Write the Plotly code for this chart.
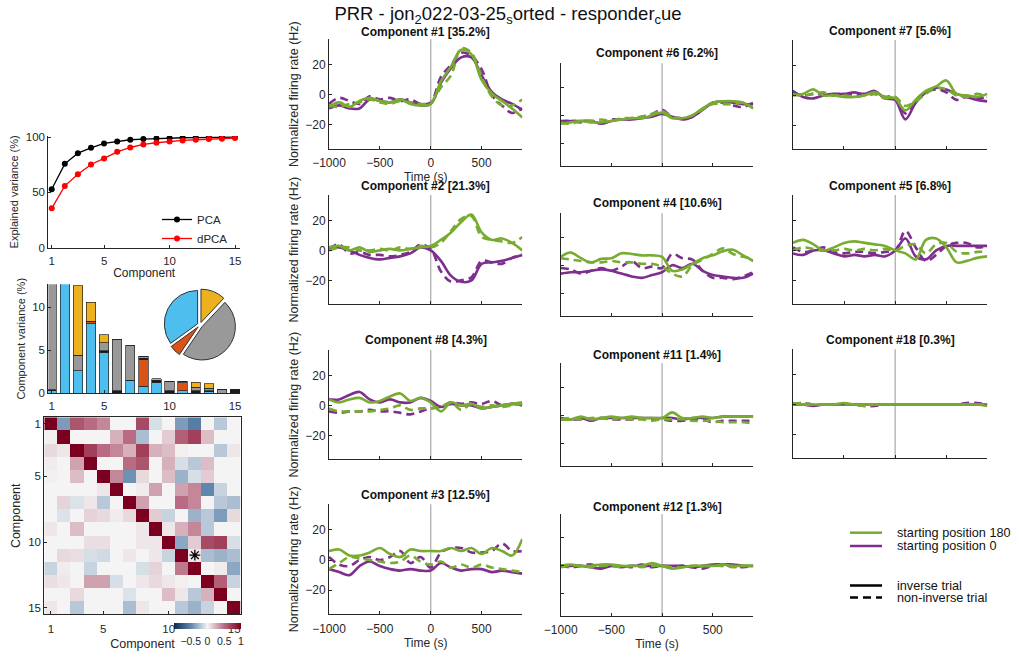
import plotly.graph_objects as go

W, H = 1019, 661
FONT = "Liberation Sans, Arial, Helvetica, sans-serif"
AX = "#262626"
GREEN = "#77AC30"
PURPLE = "#7E2F8E"
C_BLUE, C_RED, C_BLACK, C_GRAY, C_YELLOW = "#4DBEEE", "#D95319", "#1a1a1a", "#999999", "#EDB120"

# ------------------------------------------------------------------ data
components = [1, 2, 3, 4, 5, 6, 7, 8, 9, 10, 11, 12, 13, 14, 15]
pca_cumvar = [52.9, 75.8, 85.5, 90.3, 94.3, 96.0, 97.6, 98.2, 98.8, 99.1, 99.4, 99.6, 99.8, 99.9, 100.0]
dpca_cumvar = [35.6, 55.9, 66.5, 75.2, 80.7, 86.7, 90.6, 93.4, 94.9, 96.1, 97.0, 97.6, 98.2, 98.5, 99.1]

var_blue = [0.3, 21.3, 2.6, 8.1, 4.8, 0, 1.5, 0.8, 1.3, 0, 0.3, 0, 0.2, 0, 0]
var_red = [0, 0, 0, 0.3, 0, 0, 0, 3.1, 0, 0, 0.9, 0, 0, 0, 0]
var_black = [0.1, 0, 0, 0, 0.15, 0.3, 0, 0.15, 0.2, 0.3, 0, 0.3, 0.1, 0, 0.45]
var_gray = [34.8, 0, 1.8, 0, 0.9, 5.9, 4.0, 0.25, 0, 1.1, 0.2, 0.4, 0.3, 0.45, 0]
var_yellow = [0, 0, 8.1, 2.2, 0.95, 0, 0.1, 0, 0.2, 0, 0, 0.6, 0.5, 0, 0]

pie_labels = ["yellow", "gray", "red", "blue"]
pie_values = [12.0, 47.5, 5.5, 35.0]

corr_matrix = [
    [1, -0.4, 0.6, 0.5, 0.4, 0, 0, 0.65, -0.1, 0, -0.4, -0.55, 0, -0.2, 0],
    [0.02, 1, 0, 0, 0, 0.25, 0.5, -0.25, 0, 0.15, 0.55, 0.7, 0.2, 0, 0],
    [0.1, 0.05, 1, 0.7, 0.5, 0.4, 0.25, 0.7, 0.25, 0.2, 0.02, 0, 0, -0.2, 0.05],
    [0.03, 0, 0.3, 1, 0, 0, 0.5, 0.6, 0, 0.25, -0.1, -0.2, 0.2, 0, 0],
    [0.02, 0, 0.2, 0, 1, 0.4, -0.45, 0.1, 0, 0.2, -0.3, -0.1, 0.15, 0, 0],
    [0, 0, 0, 0, 0.05, 1, 0, 0.03, 0.3, 0, 0.3, 0.4, -0.5, -0.15, 0],
    [0, 0.12, -0.08, 0.05, -0.2, 0, 1, 0.3, 0, 0, 0.5, 0.4, 0, -0.2, -0.25],
    [0, -0.08, 0, 0.12, 0.1, 0.03, 0.1, 1, 0.15, -0.15, 0, -0.3, -0.2, -0.4, 0.1],
    [0.05, 0, 0.2, 0, 0, 0, 0, 0.05, 1, 0.05, 0.25, 0.4, -0.2, 0, 0],
    [0, 0, 0, 0.08, 0.08, 0, 0, 0.05, 0.05, 1, -0.35, 0.15, 0.65, 0.7, -0.1],
    [0, 0.1, 0.08, -0.1, -0.12, 0, 0.05, 0, 0.05, -0.15, 1, 0.05, -0.25, -0.3, -0.25],
    [-0.15, 0.03, 0, -0.15, 0, 0, 0, -0.1, 0.12, 0, 0.45, 1, 0, 0.03, -0.35],
    [0.08, 0.05, 0, 0.3, 0.3, -0.1, 0, 0.05, 0.1, 0.05, 0.02, 0, 1, 0.55, -0.15],
    [0, 0, 0.1, 0, 0, 0, -0.08, 0, 0, 0.2, 0.05, -0.2, 0.25, 1, 0],
    [0.05, 0, -0.2, 0, 0, 0, -0.25, 0.05, 0, 0, -0.2, -0.3, -0.15, 0, 1],
]
star_row, star_col = 11, 12
corr_ticks = [1, 5, 10, 15]
cbar_ticks = [-0.5, 0, 0.5, 1]

time_ms = [-1000, -900, -800, -700, -600, -500, -400, -300, -200, -100,
           0, 100, 200, 300, 400, 500, 600, 700, 800, 900]
event_time = 0

# g = starting position 180 (green), p = starting position 0 (purple)
# inv = inverse trial (solid), non = non-inverse trial (dashed)
c1_g_inv = [-8, -5, -8, -4, -2, -4, -5, -3, -6, -7, -6, 9, 19, 30, 27, 10, 1, -4, -9, -15]
c1_g_non = [-7, -8, -6, -5, -3, -5, -6, -4, -5, -6, -5, 5, 13, 31, 28, 12, -1, -7, -7, -3]
c1_p_inv = [-9, -7, -9, -9, -3, -4, -5, -3, -5, -7, -6, 8, 18, 25, 25, 13, 2, -3, -6, -10]
c1_p_non = [-6, -2, -4, -6, -1, -3, -2, -4, -3, -6, -5, 12, 20, 28, 26, 17, 0, -7, -12, -9]

c2_g_inv = [2, 3, 0, 2, -1, 0, 1, 0, 1, 2, 3, 7, 12, 19, 24, 12, 7, 8, 5, 0]
c2_g_non = [0, 2, 2, 0, 0, 1, 0, 2, 1, 3, 2, 5, 13, 21, 23, 9, 7, 6, 5, 9]
c2_p_inv = [2, 2, 0, -3, -5, -6, -5, -4, -2, 2, 0, -7, -17, -21, -20, -9, -8, -7, -5, -3]
c2_p_non = [1, 4, -2, -1, -3, -3, -4, -3, -1, 4, 1, -14, -21, -20, -18, -7, -8, -9, -5, -3]

c3_g_inv = [6, 7, 3, 3, 5, 8, 4, 2, 7, 6, 6, 6, 8, 6, 8, 4, 8, 6, 3, 14]
c3_g_non = [-6, -2, 2, 1, 0, -1, -2, -1, 3, -1, -3, -1, -5, -3, -5, -3, -5, -6, -7, -8]
c3_p_inv = [-6, -8, -10, -4, -1, -4, -6, -7, -6, -7, -7, -2, -5, -7, -6, -6, -8, -7, -8, -9]
c3_p_non = [2, -3, -4, 0, 2, 0, 2, 6, -2, 2, -5, 5, 8, 8, 5, 5, 6, 11, 6, 6]

c4_g_inv = [6, 9, 5, 2, 4.5, 5, 8.5, 8, 7, 7, 6, -4, -3, 1, 5, 7, 10, 11, 7, 3]
c4_g_non = [5, 4, 3, 2, 2, 3, 2, 2, 1, 1, -1, -6, -8, 0, 4, 8, 12, 8, 6, 5]
c4_p_inv = [-6, -5, -5, -4, -3, -4, -6, -8, -9, -7, -5, 0, -2, 1, -4, -7, -8, -9, -9, -6]
c4_p_non = [-2, -3, -6, -4, -2, -4, -1, 3, -2, -1, -2, 8, 5, 4, -4, -9, -9, -10, -8, -5]

c5_g_inv = [5, 7, 4, 0, 2, 5, 6, 5, 4, 3, 0, -2, -6, 7, 8, 2, -8, -7, -5, -4]
c5_g_non = [0, 2, 1, 0, 0, 1, 0, 1, 0, 1, 0, 3, 4, -2, 4, 5, -1, -2, -1, -1]
c5_p_inv = [-2, -3, 0, 0, -2, -4, -3, -4, -3, -4, 0, 8, -4, -6, 0, 3, 3, 3, 3, 3]
c5_p_non = [2, -1, 0, 2, -1, -2, -1, -1, -2, -1, 0, 13, 2, -7, -3, 3, 5, 5, 2, 3]

c6_g_inv = [-6, -5, -4, -5, -5, -4, -3, -2, -2, 0, 2, -2, -2, 0, 5, 9, 10, 10, 9, 5]
c6_g_non = [-5, -6, -4, -4, -3, -4, -2, -2, -1, 1, 3, -1, -2, 0, 4, 8, 8, 8, 9, 5]
c6_p_inv = [-5, -4, -4, -4, -6, -4, -3, -3, -2, -1, 1, -1, -3, -1, 4, 9, 10, 9, 8, 8]
c6_p_non = [-4, -4, -5, -4, -5, -3, -3, -2, -1, 1, 4, -1, -2, -1, 4, 9, 9, 7, 6, 9]

c7_g_inv = [0, 1, 4, 0, 0, -1, -1, 0, 2, -1, -2, -10, -3, 3, 6, 10, 1, 0, -1, 1]
c7_g_non = [1, 0, 1, 2, 0, 0, -1, 0, 1, -2, -1, -7, -4, 1, 5, 4, 0, -1, 1, -1]
c7_p_inv = [3, -1, -2, 0, 1, 1, 2, 1, 3, -2, -3, -16, -5, 2, 5, 4, 1, -1, -3, -4]
c7_p_non = [2, 0, 1, 1, 0, 0, 1, 0, 1, -1, -1, -12, -3, 2, 4, 2, -3, -1, -2, -1]

c8_g_inv = [4, 2, 4, 5, 2, 3, 6, 8, 3, 5, 2, -4, 2, 0, 1, -2, -1, 0, 1, 2]
c8_g_non = [-2, -4, -4, -4, -4, -3, -2, 0, -3, -2, -2, -1, 2, -3, 1, -1, 0, -1, 0, 1]
c8_p_inv = [4, 4, 7, 9, 4, 2, 4, 2, 2, 5, 3, -1, 1, 0, 0, -2, -1, 0, 1, 0]
c8_p_non = [-4, -5, -4, -4, -3, -4, -4, -5, -6, -4, -2, -1, 2, 1, 2, 1, 3, 0, 1, 1]

c11_g_inv = [-3, -3, -1, -3, -2, -1, -2, -1, -2, -2, -2, 2, -2, -2, -1, -2, -1, -1, -1, -1]
c11_g_non = [-3, -2, -3, -2, -2, -3, -2, -3, -3, -4, -3, -3, -3, -4, -4, -4, -5, -5, -5, -6]
c11_p_inv = [-2, -3, -2, -4, -2, -2, -2, -2, -2, -2, -2, -2, -3, -2, -2, -2, -1, -1, -1, -1]
c11_p_non = [-3, -3, -3, -3, -2, -3, -3, -3, -2, -3, -3, -4, -4, -3, -3, -5, -4, -4, -4, -4]

c12_g_inv = [0, 1, 0, 0, 1, 1, 0, 0, 0, 2, 0, -2, -1, 0, 0, 0, 1, 0, 0, 0]
c12_g_non = [-1, 0, 0, -1, 0, 0, -1, 0, -1, 0, 0, -1, -1, 0, 0, 0, 0, -1, 0, 0]
c12_p_inv = [0, 0, 0, -1, -2, 0, -1, 0, 0, 0, 0, 0, 0, -1, 0, 1, 1, 1, 0, 0]
c12_p_non = [0, -1, 0, 1, -1, 0, 0, -1, 1, -1, 0, -1, 0, -1, -2, 0, 0, 0, -1, 0]

c18_g_inv = [1, 0, 0, 0, 0, 1, 0, 0, 0, 0, 0, 0, 0, 0, 0, 0, 0, 0, 0, -1]
c18_g_non = [0, 1, 0, 0, 0, 0, 0, -1, 0, 0, 0, 0, 0, 0, 0, 0, 0, 0, 0, 0]
c18_p_inv = [0, 0, -1, 0, 0, 0, 0, 0, 0, 0, 0, 0, 0, 0, 0, 0, 0, 0, 0, 0]
c18_p_non = [0, 1, 0, 0, 0, 0, 0, -1, -1, 0, 0, 0, 0, 0, 0, 0, 0, 1, 1, 0]

panel_components = [1, 6, 7, 2, 4, 5, 8, 11, 18, 3, 12]
panel_explained = [35.2, 6.2, 5.6, 21.3, 10.6, 6.8, 4.3, 1.4, 0.3, 12.5, 1.3]

series_by_comp = {
    1: (c1_g_inv, c1_g_non, c1_p_inv, c1_p_non),
    2: (c2_g_inv, c2_g_non, c2_p_inv, c2_p_non),
    3: (c3_g_inv, c3_g_non, c3_p_inv, c3_p_non),
    4: (c4_g_inv, c4_g_non, c4_p_inv, c4_p_non),
    5: (c5_g_inv, c5_g_non, c5_p_inv, c5_p_non),
    6: (c6_g_inv, c6_g_non, c6_p_inv, c6_p_non),
    7: (c7_g_inv, c7_g_non, c7_p_inv, c7_p_non),
    8: (c8_g_inv, c8_g_non, c8_p_inv, c8_p_non),
    11: (c11_g_inv, c11_g_non, c11_p_inv, c11_p_non),
    12: (c12_g_inv, c12_g_non, c12_p_inv, c12_p_non),
    18: (c18_g_inv, c18_g_non, c18_p_inv, c18_p_non),
}

legend_cond = ["starting position 180", "starting position 0"]
legend_trial = ["inverse trial", "non-inverse trial"]


# ------------------------------------------------------------------ helpers
def xd(x0, x1):
    return [x0 / W, x1 / W]


def yd(y0, y1):
    return [1 - y1 / H, 1 - y0 / H]


def axis_style(title=None, tsize=11, standoff=3, fsize=11, **kw):
    d = dict(showline=True, linecolor=AX, linewidth=1, ticks="inside", ticklen=3,
             tickcolor=AX, tickwidth=1, showgrid=False, zeroline=False, automargin=False,
             tickfont=dict(family=FONT, size=fsize, color=AX))
    if title:
        d["title"] = dict(text=title, standoff=standoff,
                          font=dict(family=FONT, size=tsize, color=AX))
    d.update(kw)
    return d


fig = go.Figure()
layout = {}

# ---- explained variance panel (x1/y1)
fig.add_trace(go.Scatter(x=components, y=pca_cumvar, mode="lines+markers", name="PCA",
                         line=dict(color="black", width=1.3),
                         marker=dict(color="black", size=6), xaxis="x", yaxis="y"))
fig.add_trace(go.Scatter(x=components, y=dpca_cumvar, mode="lines+markers", name="dPCA",
                         line=dict(color="#FF0000", width=1.3),
                         marker=dict(color="#FF0000", size=6), xaxis="x", yaxis="y"))
layout["xaxis"] = axis_style("Component", 12, 3, 11.5, domain=xd(48.3, 240), anchor="y",
                             range=[0.74, 15.38], tickvals=corr_ticks, ticklabelstandoff=2)
layout["yaxis"] = axis_style("Explained variance (%)", 11, 4, 11.5, domain=yd(136, 247.7),
                             anchor="x", range=[0, 101], tickvals=[0, 50, 100])

# ---- component variance bars (x2/y2)
for vals, col in [(var_blue, C_BLUE), (var_red, C_RED), (var_black, C_BLACK),
                  (var_gray, C_GRAY), (var_yellow, C_YELLOW)]:
    fig.add_trace(go.Bar(x=components, y=vals, width=0.72, marker=dict(color=col,
                         line=dict(color="#222", width=0.7)), showlegend=False,
                         xaxis="x2", yaxis="y2"))
layout["xaxis2"] = axis_style(fsize=11.5, domain=xd(48.3, 240), anchor="y2",
                              range=[0.74, 15.38], tickvals=corr_ticks, ticklabelstandoff=2)
layout["yaxis2"] = axis_style("Component variance (%)", 11, 4, 11.5, domain=yd(284.3, 393.3),
                              anchor="x2", range=[0, 12.67], tickvals=[0, 5, 10])

fig.add_trace(go.Pie(labels=pie_labels, values=pie_values, sort=False, direction="clockwise",
                     rotation=0, pull=0.08, textinfo="none", hoverinfo="label+percent",
                     marker=dict(colors=[C_YELLOW, C_GRAY, C_RED, C_BLUE],
                                 line=dict(color="#333", width=1)),
                     domain=dict(x=xd(164, 236), y=yd(289, 361)), showlegend=False))

# ---- correlation matrix (x3/y3)
fig.add_trace(go.Heatmap(z=corr_matrix, x=components, y=components, zmin=-1, zmax=1,
                         xaxis="x3", yaxis="y3",
                         colorscale=[[0, "#0b2a4f"], [0.25, "#5f86ad"], [0.5, "#f4f4f4"],
                                     [0.75, "#b86b82"], [1, "#7b0020"]],
                         colorbar=dict(orientation="h", x=207.5 / W, xanchor="center",
                                       y=1 - 623 / H, yanchor="top", len=67 / W,
                                       lenmode="fraction", thickness=6, xpad=0, ypad=0,
                                       outlinewidth=0, tickvals=cbar_ticks, ticks="outside",
                                       ticklen=4, tickcolor="rgba(0,0,0,0)",
                                       tickfont=dict(family=FONT, size=10.5, color=AX))))
fig.add_trace(go.Scatter(x=[star_col], y=[star_row], mode="markers", showlegend=False,
                         marker=dict(symbol="asterisk-open", size=9, color="black",
                                     line=dict(color="black", width=1.3)),
                         xaxis="x3", yaxis="y3"))
layout["xaxis3"] = axis_style("Component", 12.5, 5, 11.5, domain=xd(44.3, 240.7), anchor="y3",
                              range=[0.5, 15.5], tickvals=corr_ticks, mirror=True,
                              ticklabelstandoff=4)
layout["yaxis3"] = axis_style("Component", 12.5, 4, 11.5, domain=yd(417.3, 614.3), anchor="x3",
                              range=[15.5, 0.5], tickvals=corr_ticks, mirror=True)

# ---- time course panels
rects = [
    (329, 522.3, 39.3, 149), (560.7, 753.3, 63.3, 166), (792.7, 987.3, 40, 149.3),
    (329, 522.3, 195, 304.3), (560.7, 753.3, 213.3, 315.7), (793, 987.3, 195, 304.3),
    (329, 522.3, 350, 459.3), (560.7, 753.3, 363.3, 465.7), (792.7, 987.3, 349.3, 458.3),
    (329, 522.3, 504.3, 614.3), (560.7, 753.3, 514.3, 616),
]
title_y = [32, 53.3, 31, 185.7, 203.3, 185.7, 340, 355, 340, 495, 506.7]
xlab_panels = {0, 9, 10}
ylab_panels = {0, 3, 6, 9}
annotations = []
shapes = []
dash = "8px,5px"
for i, (comp, pct) in enumerate(zip(panel_components, panel_explained)):
    k = i + 4
    x0, x1, y0, y1 = rects[i]
    g_inv, g_non, p_inv, p_non = series_by_comp[comp]
    for vals, col, dsh in [(p_non, PURPLE, dash), (p_inv, PURPLE, "solid"),
                           (g_non, GREEN, dash), (g_inv, GREEN, "solid")]:
        fig.add_trace(go.Scatter(x=time_ms, y=vals, mode="lines", showlegend=False,
                                 line=dict(color=col, width=2.6, dash=dsh, shape="spline",
                                           smoothing=1.0),
                                 xaxis=f"x{k}", yaxis=f"y{k}"))
    showx = i in xlab_panels
    showy = i in ylab_panels
    layout[f"xaxis{k}"] = axis_style("Time (s)" if showx else None, 12, 3, 12,
                                     domain=xd(x0, x1), anchor=f"y{k}", range=[-1000, 900],
                                     tickvals=[-1000, -500, 0, 500], showticklabels=showx,
                                     ticklabelstandoff=3)
    layout[f"yaxis{k}"] = axis_style("Normalized firing rate (Hz)" if showy else None, 12.5, 3,
                                     12, domain=yd(y0, y1), anchor=f"x{k}", range=[-36, 37],
                                     tickvals=[-20, 0, 20], showticklabels=showy)
    shapes.append(dict(type="line", xref=f"x{k}", yref=f"y{k} domain", x0=event_time,
                       x1=event_time, y0=0, y1=1, layer="below",
                       line=dict(color="#a8a8a8", width=1.2)))
    annotations.append(dict(text=f"<b>Component #{comp} [{pct}%]</b>", xref="paper",
                            yref="paper", x=(x0 + x1) / 2 / W, y=1 - title_y[i] / H,
                            xanchor="center", yanchor="middle", showarrow=False,
                            font=dict(family=FONT, size=12, color="#111")))

# ---- condition legend (bottom right)
for yy, col, txt in [(532.7, GREEN, legend_cond[0]), (546, PURPLE, legend_cond[1])]:
    shapes.append(dict(type="line", xref="paper", yref="paper", x0=850 / W, x1=882 / W,
                       y0=1 - yy / H, y1=1 - yy / H, line=dict(color=col, width=2.5)))
    annotations.append(dict(text=txt, xref="paper", yref="paper", x=895 / W, y=1 - yy / H,
                            xanchor="left", yanchor="middle", showarrow=False,
                            font=dict(family=FONT, size=12.7, color="#111")))
for yy, dsh, txt in [(585.5, "solid", legend_trial[0]), (597.5, dash, legend_trial[1])]:
    shapes.append(dict(type="line", xref="paper", yref="paper", x0=850 / W, x1=882 / W,
                       y0=1 - yy / H, y1=1 - yy / H,
                       line=dict(color="black", width=2.5, dash=dsh)))
    annotations.append(dict(text=txt, xref="paper", yref="paper", x=895 / W, y=1 - yy / H,
                            xanchor="left", yanchor="middle", showarrow=False,
                            font=dict(family=FONT, size=12.7, color="#111")))

layout.update(dict(
    width=W, height=H, margin=dict(l=0, r=0, t=0, b=0, autoexpand=False),
    paper_bgcolor="white", plot_bgcolor="white", barmode="stack", bargap=0.2,
    font=dict(family=FONT, size=11, color=AX),
    title=dict(text="PRR - jon<sub>2</sub>022-03-25<sub>s</sub>orted - responder<sub>c</sub>ue",
               x=508 / W, xanchor="center", y=1 - 14 / H, yanchor="middle",
               font=dict(family=FONT, size=18.5, color="#111")),
    legend=dict(x=157 / W, y=1 - 205 / H, xanchor="left", yanchor="top",
                bgcolor="rgba(0,0,0,0)", font=dict(family=FONT, size=11.5, color=AX),
                itemwidth=30, tracegroupgap=0, traceorder="normal"),
    annotations=annotations, shapes=shapes,
))
fig.update_layout(layout)
fig.write_html("out.html", config={"displayModeBar": False},
               post_script="document.body.style.margin='0';document.body.style.overflow='hidden';")
